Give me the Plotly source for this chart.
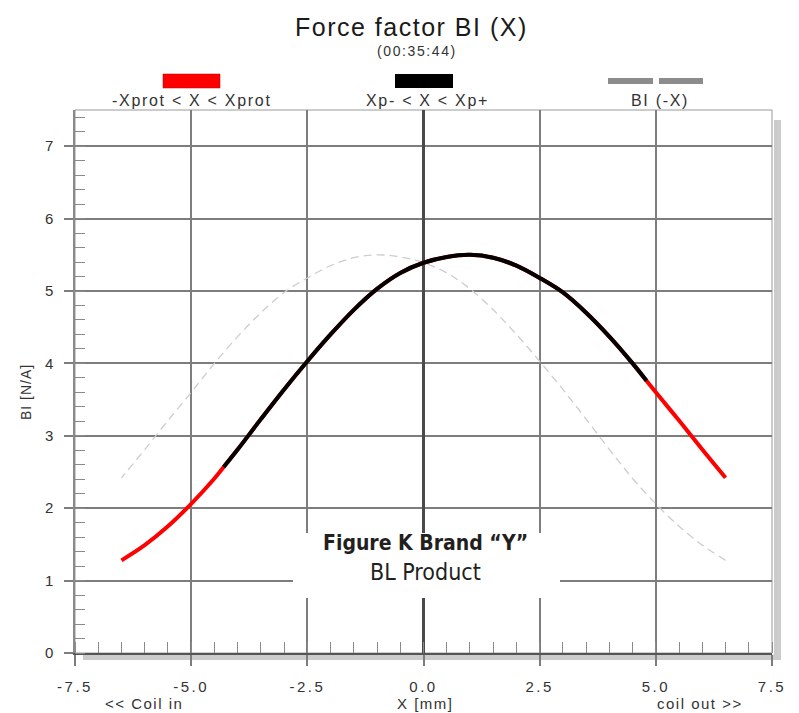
import plotly.graph_objects as go

# ---------------- data ----------------
x_mm = [-6.5, -6.0, -5.5, -5.0, -4.5, -4.3, -4.0, -3.5, -3.0, -2.5, -2.0, -1.5,
        -1.0, -0.5, 0.0, 0.5, 1.0, 1.5, 2.0, 2.5, 3.0, 3.5, 4.0, 4.5, 4.8,
        5.0, 5.5, 6.0, 6.5]
bl_values = [1.28, 1.49, 1.75, 2.06, 2.41, 2.57, 2.81, 3.23, 3.64, 4.03, 4.40, 4.74,
             5.03, 5.25, 5.39, 5.47, 5.50, 5.46, 5.35, 5.18, 4.98, 4.70, 4.37, 4.00, 3.76,
             3.60, 3.21, 2.81, 2.42]
xp_minus = -4.3
xp_plus = 4.8

legend_labels = ["-Xprot < X < Xprot", "Xp- < X < Xp+", "BI (-X)"]
x_tick_vals = [-7.5, -5.0, -2.5, 0.0, 2.5, 5.0, 7.5]
x_tick_labels = ["-7.5", "-5.0", "-2.5", "0.0", "2.5", "5.0", "7.5"]
y_tick_vals = [0, 1, 2, 3, 4, 5, 6, 7]
y_tick_labels = ["0", "1", "2", "3", "4", "5", "6", "7"]

title_text = "Force factor BI (X)"
subtitle_text = "(00:35:44)"
x_title = "X [mm]"
y_title = "BI [N/A]"
x_left_note = "<< Coil in"
x_right_note = "coil out >>"
box_line1 = "Figure K Brand \u201cY\u201d"
box_line2 = "BL Product"

# ---------------- geometry ----------------
W, H = 799, 713
L, R, T, B = 75, 772, 110, 653


def px(x):
    return (x - L) / (R - L)


def py(y):
    return (B - y) / (B - T)


FONT = "Liberation Sans, Arial, Helvetica, sans-serif"
NARROW = "Liberation Sans Narrow, Arial Narrow, DejaVu Sans Condensed, sans-serif"
TXT = "#333333"
GRID = "#7d7d7d"


def spaced(s, sp):
    return '<span style="letter-spacing:%spx">%s</span>' % (sp, s)


fig = go.Figure()

# mirrored curve BI(-X)
fig.add_trace(go.Scatter(
    x=[-v for v in x_mm], y=bl_values, mode="lines",
    line=dict(color="#cdcdcd", width=1.3, dash="8px,5px", shape="spline"),
    hoverinfo="skip", showlegend=False))

# full curve (red, protection range)
fig.add_trace(go.Scatter(
    x=x_mm, y=bl_values, mode="lines",
    line=dict(color="#ff0000", width=4, shape="spline"),
    showlegend=False))

# inner range (black)
xb = [x for x in x_mm if xp_minus <= x <= xp_plus]
yb = [y for x, y in zip(x_mm, bl_values) if xp_minus <= x <= xp_plus]
fig.add_trace(go.Scatter(
    x=xb, y=yb, mode="lines",
    line=dict(color="#000000", width=4, shape="spline"),
    showlegend=False))

shapes = []
# frame
shapes.append(dict(type="rect", xref="paper", yref="paper", x0=0, x1=1, y0=0, y1=1,
                   line=dict(color="#9a9a9a", width=1), layer="below"))
# shadows
shapes.append(dict(type="rect", xref="paper", yref="paper",
                   x0=px(774), x1=px(781), y0=py(660), y1=py(120),
                   fillcolor="#cccccc", line=dict(width=0), layer="below"))
shapes.append(dict(type="rect", xref="paper", yref="paper",
                   x0=px(83), x1=px(781), y0=py(660), y1=py(654.5),
                   fillcolor="#cccccc", line=dict(width=0), layer="below"))
# white label box
shapes.append(dict(type="rect", xref="paper", yref="paper",
                   x0=px(293), x1=px(560), y0=py(598), y1=py(533),
                   fillcolor="white", line=dict(width=0), layer="above"))
# legend swatches
shapes.append(dict(type="rect", xref="paper", yref="paper",
                   x0=px(163), x1=px(220), y0=py(88), y1=py(74),
                   fillcolor="#ff0000", line=dict(color="#b00000", width=0.5)))
shapes.append(dict(type="rect", xref="paper", yref="paper",
                   x0=px(395), x1=px(453), y0=py(88), y1=py(74),
                   fillcolor="#000000", line=dict(width=0)))
shapes.append(dict(type="rect", xref="paper", yref="paper",
                   x0=px(608), x1=px(653), y0=py(84), y1=py(78),
                   fillcolor="#8c8c8c", line=dict(width=0)))
shapes.append(dict(type="rect", xref="paper", yref="paper",
                   x0=px(659), x1=px(703), y0=py(84), y1=py(78),
                   fillcolor="#8c8c8c", line=dict(width=0)))

ann = []


def add_text(text, x, y, size, color=TXT, family=FONT, angle=0, xanchor="center"):
    ann.append(dict(text=text, xref="paper", yref="paper", x=px(x), y=py(y),
                    xanchor=xanchor, yanchor="middle", showarrow=False,
                    textangle=angle, font=dict(family=family, size=size, color=color)))


add_text(spaced(title_text, 1.5), 411, 27, 25, color="#1a1a1a")
add_text(spaced(subtitle_text, 1.6), 417, 51, 14)
add_text(spaced(legend_labels[0], 1.7), 192, 101, 16)
add_text(spaced(legend_labels[1], 1.7), 427, 101, 16)
add_text(spaced(legend_labels[2], 1.7), 660, 101, 16)
add_text(spaced(y_title, 1.0), 26, 392, 14, angle=-90)
add_text(spaced(x_title, 1.5), 425, 703, 15)
add_text(spaced(x_left_note, 1.5), 144, 703, 15)
add_text(spaced(x_right_note, 1.5), 700, 703, 15)
add_text("<b>" + box_line1 + "</b>", 425, 543, 21, color="#231f20", family=NARROW)
add_text(box_line2, 426, 572, 23, color="#231f20", family=NARROW)

fig.update_layout(
    width=W, height=H,
    margin=dict(l=L, r=W - R, t=T, b=H - B, pad=0),
    paper_bgcolor="white", plot_bgcolor="white",
    showlegend=False,
    shapes=shapes, annotations=ann,
    font=dict(family=FONT, color=TXT),
)

fig.update_xaxes(
    range=[-7.5, 7.5], tickmode="array", tickvals=x_tick_vals,
    ticktext=[spaced(t, 2.5) for t in x_tick_labels],
    showgrid=True, gridcolor=GRID, gridwidth=1.5,
    zeroline=True, zerolinecolor="#4a4a4a", zerolinewidth=3,
    showline=True, linecolor="#555555", linewidth=2,
    ticks="outside", ticklen=11, tickwidth=1.5, tickcolor=GRID,
    ticklabelstandoff=8,
    tickfont=dict(family=FONT, size=15, color=TXT),
    minor=dict(dtick=0.5, tick0=-7.5, ticks="inside", ticklen=11,
               tickwidth=1, tickcolor="#8a8a8a", showgrid=False),
    fixedrange=True,
)
fig.update_yaxes(
    range=[0, 7.5], tickmode="array", tickvals=y_tick_vals,
    ticktext=[spaced(t, 1) for t in y_tick_labels],
    showgrid=True, gridcolor=GRID, gridwidth=1.5,
    zeroline=False,
    showline=True, linecolor="#8a8a8a", linewidth=1.5,
    ticks="outside", ticklen=9, tickwidth=1.5, tickcolor=GRID,
    ticklabelstandoff=7,
    tickfont=dict(family=FONT, size=15, color=TXT),
    minor=dict(dtick=0.2, tick0=0, ticks="inside", ticklen=10,
               tickwidth=1, tickcolor="#8a8a8a", showgrid=False),
    fixedrange=True,
)

fig.write_html("out.html", config={"displayModeBar": False},
               post_script="document.body.style.margin='0';document.body.style.padding='0';")
